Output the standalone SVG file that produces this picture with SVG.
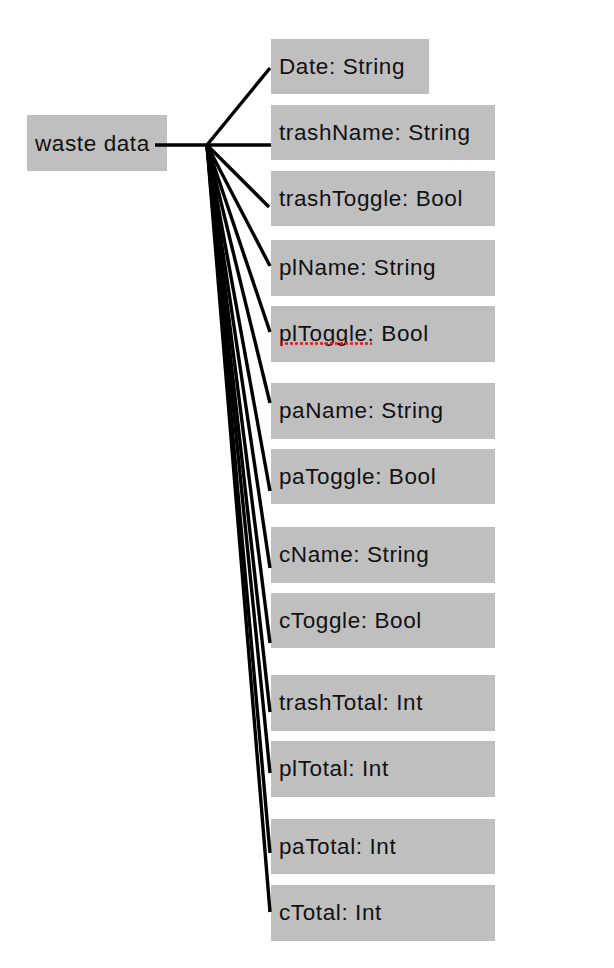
<svg xmlns="http://www.w3.org/2000/svg" width="614" height="968" viewBox="0 0 614 968">
<style>
.box{fill:#bfbfbf}
.lbl{font-family:"Liberation Sans",Arial,sans-serif;font-size:22.5px;letter-spacing:0.6px;fill:#111}
.edge{stroke:#000;stroke-width:3.4;fill:none;stroke-linecap:butt}
</style>
<rect width="614" height="968" fill="#fff"/>
<g id="waste-data">
<rect class="box" x="27" y="115" width="140" height="56"/>
<text class="lbl" x="35" y="150.5">waste data</text>
</g>
<g id="date">
<rect class="box" x="271" y="39" width="158" height="55"/>
<text class="lbl" x="279" y="74">Date: String</text>
</g>
<g id="trashName">
<rect class="box" x="271" y="105" width="224" height="55"/>
<text class="lbl" x="279" y="140">trashName: String</text>
</g>
<g id="trashToggle">
<rect class="box" x="271" y="171" width="224" height="55"/>
<text class="lbl" x="279" y="206">trashToggle: Bool</text>
</g>
<g id="plName">
<rect class="box" x="271" y="240" width="224" height="56"/>
<text class="lbl" x="279" y="275">plName: String</text>
</g>
<g id="plToggle">
<rect class="box" x="271" y="306" width="224" height="56"/>
<text class="lbl" x="279" y="341">plToggle: Bool</text>
<line x1="280" y1="343.5" x2="372" y2="343.5" stroke="#e8161c" stroke-width="2.5" stroke-dasharray="3 2"/>
</g>
<g id="paName">
<rect class="box" x="271" y="383" width="224" height="56"/>
<text class="lbl" x="279" y="418">paName: String</text>
</g>
<g id="paToggle">
<rect class="box" x="271" y="449" width="224" height="55"/>
<text class="lbl" x="279" y="484">paToggle: Bool</text>
</g>
<g id="cName">
<rect class="box" x="271" y="527" width="224" height="56"/>
<text class="lbl" x="279" y="562">cName: String</text>
</g>
<g id="cToggle">
<rect class="box" x="271" y="593" width="224" height="55"/>
<text class="lbl" x="279" y="628">cToggle: Bool</text>
</g>
<g id="trashTotal">
<rect class="box" x="271" y="675" width="224" height="56"/>
<text class="lbl" x="279" y="710">trashTotal: Int</text>
</g>
<g id="plTotal">
<rect class="box" x="271" y="741" width="224" height="56"/>
<text class="lbl" x="279" y="776">plTotal: Int</text>
</g>
<g id="paTotal">
<rect class="box" x="271" y="819" width="224" height="55"/>
<text class="lbl" x="279" y="854">paTotal: Int</text>
</g>
<g id="cTotal">
<rect class="box" x="271" y="885" width="224" height="56"/>
<text class="lbl" x="279" y="920">cTotal: Int</text>
</g>
<g id="connectors">
<line class="edge" x1="155" y1="145" x2="208" y2="145"/>
<line class="edge" x1="207" y1="145" x2="270" y2="68"/>
<line class="edge" x1="207" y1="145" x2="271" y2="145"/>
<line class="edge" x1="207" y1="145" x2="269" y2="207"/>
<line class="edge" x1="207" y1="145" x2="270" y2="266"/>
<line class="edge" x1="207" y1="145" x2="270" y2="332"/>
<line class="edge" x1="207" y1="145" x2="270" y2="403"/>
<line class="edge" x1="207" y1="145" x2="270" y2="491"/>
<line class="edge" x1="207" y1="145" x2="270" y2="568"/>
<line class="edge" x1="207" y1="145" x2="270" y2="643"/>
<line class="edge" x1="207" y1="145" x2="270" y2="712"/>
<line class="edge" x1="207" y1="145" x2="270" y2="773"/>
<line class="edge" x1="207" y1="145" x2="270" y2="853"/>
<line class="edge" x1="207" y1="145" x2="270" y2="912"/>
</g>
</svg>
